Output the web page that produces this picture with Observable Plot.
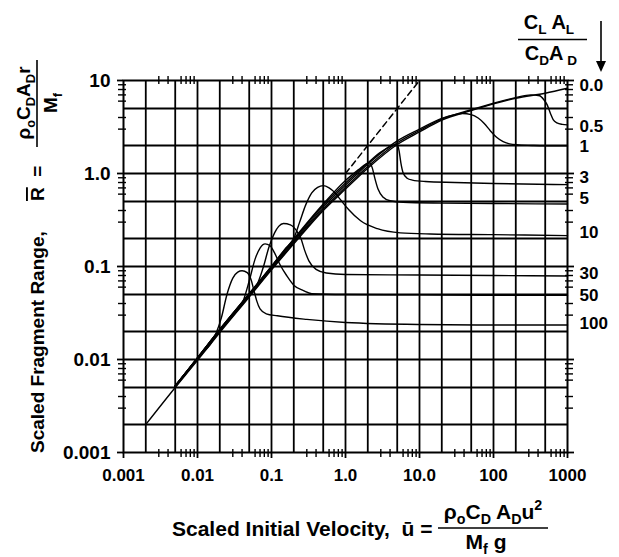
<!DOCTYPE html>
<html><head><meta charset="utf-8">
<script src="https://cdn.jsdelivr.net/npm/d3@7"></script>
<script src="https://cdn.jsdelivr.net/npm/@observablehq/plot@0.6"></script>
<style>
html,body{margin:0;padding:0;background:#fff;}
svg{display:block;}
</style></head><body>
<div id="chart"></div>
<script>
// ---- data: scaled velocity u (x) and scaled range R (y) per lift ratio CL·AL/CD·AD ----
const u_00 = [0.002, 0.005, 0.01, 0.02, 0.05, 0.1, 0.2, 0.5, 1, 2, 5, 10, 20, 50, 100, 200, 500, 1000];
const R_00 = [0.002, 0.005, 0.0098, 0.0195, 0.047, 0.092, 0.175, 0.40, 0.68, 1.14, 2.05, 2.8, 3.75, 4.75, 5.6, 6.45, 7.3, 8.25];

const u_05 = [0.005, 0.01, 0.02, 0.05, 0.1, 0.2, 0.5, 1, 2, 5, 10, 20, 50, 100, 200, 320, 420, 480, 530, 590, 640, 720, 850, 1000];
const R_05 = [0.0051, 0.01, 0.02, 0.048, 0.094, 0.18, 0.415, 0.71, 1.19, 2.14, 2.9, 3.85, 4.85, 5.7, 6.55, 7.0, 6.85, 6.2, 5.5, 4.4, 3.8, 3.5, 3.37, 3.33];

const u_1 = [0.005, 0.01, 0.02, 0.05, 0.1, 0.2, 0.5, 1, 2, 5, 10, 20, 30, 38, 50, 62, 75, 90, 110, 135, 165, 220, 350, 1000];
const R_1 = [0.0051, 0.0101, 0.0202, 0.049, 0.097, 0.186, 0.435, 0.75, 1.26, 2.24, 3.0, 3.92, 4.3, 4.42, 4.3, 3.95, 3.45, 2.9, 2.45, 2.2, 2.08, 2.03, 2.0, 1.98];

const u_3 = [0.005, 0.01, 0.02, 0.05, 0.1, 0.2, 0.5, 1, 2, 3, 4, 5, 5.3, 5.6, 6, 6.8, 8, 12, 30, 100, 1000];
const R_3 = [0.0052, 0.0103, 0.0206, 0.05, 0.099, 0.193, 0.455, 0.79, 1.3, 1.7, 1.94, 2.07, 1.75, 1.3, 1.02, 0.89, 0.85, 0.82, 0.8, 0.78, 0.76];

const u_5 = [0.005, 0.01, 0.02, 0.05, 0.1, 0.2, 0.5, 1, 1.5, 1.9, 2.1, 2.3, 2.5, 2.75, 3.2, 4, 6, 20, 100, 1000];
const R_5 = [0.0052, 0.0104, 0.021, 0.051, 0.101, 0.198, 0.47, 0.84, 1.1, 1.27, 1.3, 1.15, 0.88, 0.68, 0.56, 0.51, 0.49, 0.48, 0.475, 0.47];

const u_10 = [0.005, 0.01, 0.02, 0.05, 0.1, 0.15, 0.2, 0.24, 0.29, 0.35, 0.42, 0.5, 0.6, 0.72, 0.86, 1.1, 1.6, 2.7, 5.5, 14, 100, 1000];
const R_10 = [0.0052, 0.0104, 0.021, 0.051, 0.1, 0.152, 0.2, 0.3, 0.46, 0.62, 0.71, 0.74, 0.7, 0.62, 0.52, 0.41, 0.31, 0.255, 0.23, 0.224, 0.22, 0.215];

const u_30 = [0.005, 0.01, 0.02, 0.05, 0.065, 0.078, 0.092, 0.11, 0.125, 0.145, 0.18, 0.22, 0.25, 0.28, 0.32, 0.4, 0.55, 1, 10, 100, 1000];
const R_30 = [0.0052, 0.0104, 0.021, 0.051, 0.066, 0.1, 0.16, 0.23, 0.27, 0.29, 0.28, 0.24, 0.2, 0.15, 0.115, 0.093, 0.085, 0.082, 0.081, 0.08, 0.079];

const u_50 = [0.005, 0.01, 0.02, 0.03, 0.042, 0.05, 0.06, 0.07, 0.082, 0.095, 0.11, 0.13, 0.16, 0.2, 0.27, 0.35, 1, 10, 100, 1000];
const R_50 = [0.0052, 0.0104, 0.021, 0.031, 0.044, 0.07, 0.12, 0.158, 0.175, 0.168, 0.14, 0.105, 0.08, 0.063, 0.055, 0.051, 0.05, 0.0495, 0.049, 0.049];

const u_100 = [0.005, 0.01, 0.018, 0.021, 0.025, 0.03, 0.035, 0.04, 0.047, 0.053, 0.058, 0.063, 0.07, 0.085, 0.12, 0.3, 1, 10, 100, 1000];
const R_100 = [0.0052, 0.0104, 0.0195, 0.028, 0.05, 0.075, 0.087, 0.09, 0.086, 0.072, 0.055, 0.043, 0.035, 0.031, 0.0295, 0.027, 0.025, 0.0238, 0.0235, 0.0235];

// R = u reference (dashed)
const u_dash = [1, 10];
const R_dash = [1, 10];

// axis tick labels
const xDecades = [0.001, 0.01, 0.1, 1, 10, 100, 1000];
const xDecadeLabels = ["0.001", "0.01", "0.1", "1.0", "10.0", "100", "1000"];
const yDecades = [0.001, 0.01, 0.1, 1, 10];
const yDecadeLabels = ["0.001", "0.01", "0.1", "1.0", "10"];

// right-hand curve labels (lift ratio) and the R level they sit at
const curveLabels = ["0.0", "0.5", "1", "3", "5", "10", "30", "50", "100"];
const curveLabelR = [8.8, 3.2, 1.96, 0.91, 0.54, 0.233, 0.084, 0.049, 0.0245];

// ---- build tables ----
const series = [
  ["0.0", u_00, R_00], ["0.5", u_05, R_05], ["1", u_1, R_1], ["3", u_3, R_3],
  ["5", u_5, R_5], ["10", u_10, R_10], ["30", u_30, R_30], ["50", u_50, R_50], ["100", u_100, R_100]
];
const rows = series.flatMap(([k, us, rs]) => us.map((u, i) => ({k, u, R: rs[i]})));
const dashRows = u_dash.map((u, i) => ({u, R: R_dash[i]}));

const mult125 = [1, 2, 5];
const multMinor = [3, 4, 6, 7, 8, 9];
const gridX = xDecades.flatMap(d => mult125.map(m => d * m)).filter(v => v > 0.001 && v < 1000);
const gridY = yDecades.flatMap(d => mult125.map(m => d * m)).filter(v => v > 0.001 && v < 10);
const minorX = xDecades.slice(0, -1).flatMap(d => multMinor.map(m => d * m));
const minorY = yDecades.slice(0, -1).flatMap(d => multMinor.map(m => d * m));

const FF = "'Liberation Sans', Arial, Helvetica, sans-serif";
const noText = () => "";

const plot = Plot.plot({
  width: 619, height: 557,
  marginLeft: 123, marginRight: 52, marginTop: 80, marginBottom: 105,
  x: {type: "log", domain: [0.001, 1000], label: null},
  y: {type: "log", domain: [0.001, 10], label: null},
  style: {fontFamily: FF, background: "white", color: "black", overflow: "visible"},
  marks: [
    Plot.gridX(gridX, {stroke: "black", strokeOpacity: 1, strokeWidth: 1.8}),
    Plot.gridY(gridY, {stroke: "black", strokeOpacity: 1, strokeWidth: 1.8}),
    Plot.frame({stroke: "black", strokeWidth: 2}),
    Plot.axisX(minorX, {anchor: "bottom", tickSize: 8, dy: -3, tickFormat: noText, label: null, strokeWidth: 1.4}),
    Plot.axisX(minorX, {anchor: "top", tickSize: 8, dy: 3, tickFormat: noText, label: null, strokeWidth: 1.4}),
    Plot.axisY(minorY, {anchor: "left", tickSize: 8, dx: 3, tickFormat: noText, label: null, strokeWidth: 1.4}),
    Plot.axisY(minorY, {anchor: "right", tickSize: 8, dx: -3, tickFormat: noText, label: null, strokeWidth: 1.4}),
    Plot.axisX(xDecades, {anchor: "bottom", tickSize: 6, tickFormat: noText, label: null, strokeWidth: 1.8}),
    Plot.axisY(yDecades, {anchor: "left", tickSize: 6, tickFormat: noText, label: null, strokeWidth: 1.8}),
    Plot.axisY(yDecades, {anchor: "right", tickSize: 6, tickFormat: noText, label: null, strokeWidth: 1.8}),
    Plot.line(dashRows, {x: "u", y: "R", stroke: "black", strokeWidth: 1.5, strokeDasharray: "6,4"}),
    Plot.line(rows, {x: "u", y: "R", z: "k", stroke: "black", strokeWidth: 1.4, curve: "monotone-x"}),
    Plot.text(xDecades, {x: d => d, text: (d, i) => xDecadeLabels[i], frameAnchor: "bottom", dy: 28,
      fontSize: 17, fontWeight: "bold", fill: "black"}),
    Plot.text(yDecades, {y: d => d, text: (d, i) => yDecadeLabels[i], frameAnchor: "left", textAnchor: "end", dx: -13,
      fontSize: 19, fontWeight: "bold", fill: "black"}),
    Plot.text(curveLabels, {y: (d, i) => curveLabelR[i], text: d => d, frameAnchor: "right", textAnchor: "start", dx: 12,
      fontSize: 17, fontWeight: "bold", fill: "black"})
  ]
});
document.getElementById("chart").appendChild(plot);

// ---- annotations (titles with fractions) ----
const sel = d3.select(plot);
const ann = sel.append("g").attr("font-family", FF).attr("font-weight", "bold").attr("fill", "black")
  .attr("text-anchor", "start").style("white-space", "pre");

function rich(t, parts, fs) {
  let cur = 0;
  for (const [s, kind] of parts) {
    const target = kind === "sub" ? 0.25 * fs : kind === "sup" ? -0.42 * fs : 0;
    const ts = t.append("tspan").attr("dy", target - cur).attr("font-size", (kind === "sub" || kind === "sup") ? 0.68 * fs : fs).text(s);
    if (kind === "ov") ts.style("text-decoration", "overline");
    cur = target;
  }
  return t;
}

// x title
const fx = 21;
rich(ann.append("text").attr("x", 172).attr("y", 536), [["Scaled Initial Velocity,  ū = ", "n"]], fx);
rich(ann.append("text").attr("x", 493).attr("y", 519).attr("text-anchor", "middle"),
  [["ρ", "n"], ["o", "sub"], ["C", "n"], ["D", "sub"], [" A", "n"], ["D", "sub"], ["u", "n"], ["2", "sup"]], fx);
ann.append("line").attr("x1", 438).attr("x2", 548).attr("y1", 528).attr("y2", 528).attr("stroke", "black").attr("stroke-width", 1.6);
rich(ann.append("text").attr("x", 486).attr("y", 549).attr("text-anchor", "middle"),
  [["M", "n"], ["f", "sub"], [" g", "n"]], fx);

// y title (rotated; local x runs upward from the bottom start point)
const fy = 19;
const gy = ann.append("g").attr("transform", "translate(44,453) rotate(-90)");
rich(gy.append("text").attr("x", 0).attr("y", 0), [["Scaled Fragment Range,", "n"]], fy);
rich(gy.append("text").attr("x", 252).attr("y", 0), [["R", "ov"], ["  =", "n"]], fy);
rich(gy.append("text").attr("x", 350).attr("y", -14).attr("text-anchor", "middle"),
  [["ρ", "n"], ["o", "sub"], ["C", "n"], ["D", "sub"], ["A", "n"], ["D", "sub"], ["r", "n"]], fy);
gy.append("line").attr("x1", 306).attr("x2", 393).attr("y1", -7).attr("y2", -7).attr("stroke", "black").attr("stroke-width", 1.6);
rich(gy.append("text").attr("x", 350).attr("y", 13).attr("text-anchor", "middle"), [["M", "n"], ["f", "sub"]], fy);

// top-right lift-ratio header
const fh = 20;
rich(ann.append("text").attr("x", 549).attr("y", 29).attr("text-anchor", "middle"),
  [["C", "n"], ["L", "sub"], [" A", "n"], ["L", "sub"]], fh);
ann.append("line").attr("x1", 518).attr("x2", 587).attr("y1", 39.5).attr("y2", 39.5).attr("stroke", "black").attr("stroke-width", 1.6);
rich(ann.append("text").attr("x", 551).attr("y", 60).attr("text-anchor", "middle"),
  [["C", "n"], ["D", "sub"], ["A", "n"], [" D", "sub"]], fh);
ann.append("line").attr("x1", 601).attr("x2", 601).attr("y1", 21).attr("y2", 64).attr("stroke", "black").attr("stroke-width", 1.6);
ann.append("path").attr("d", "M596,61 L606,61 L601,72 Z").attr("fill", "black");
</script>
</body></html>
